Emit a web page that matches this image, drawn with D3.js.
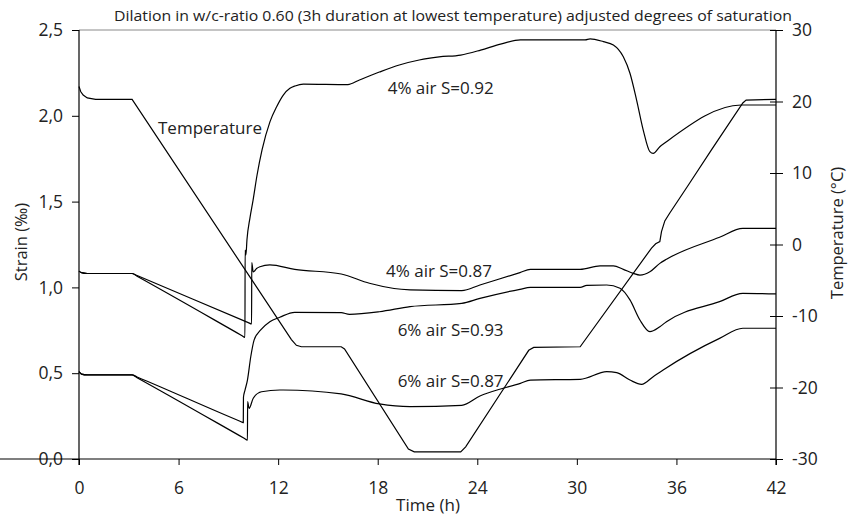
<!DOCTYPE html>
<html>
<head>
<meta charset="utf-8">
<script src="https://cdn.jsdelivr.net/npm/d3@7"></script>
<style>
  html, body { margin: 0; padding: 0; background: #fff; }
  svg { display: block; font-family: "Open Sans", "Noto Sans", sans-serif; }
</style>
</head>
<body>
<svg id="chart" width="850" height="519"></svg>
<script>
// ---- data (time in h, strain in ‰, temperature in °C) ----
const title = "Dilation in w/c-ratio 0.60 (3h duration at lowest temperature) adjusted degrees of saturation";
const timeTicks = [0, 6, 12, 18, 24, 30, 36, 42];
const strainTicks = [0, 0.5, 1.0, 1.5, 2.0, 2.5];
const tempTicks = [-30, -20, -10, 0, 10, 20, 30];

const temperature = [
  [0,22.1],[0.1,21.4],[0.25,20.9],[0.5,20.5],[1.0,20.3],[3.2,20.3],
  [12.8,-13.3],[13.1,-14.1],[13.4,-14.3],[15.8,-14.3],[16.0,-14.6],
  [19.85,-28.6],[20.2,-29.0],[23.0,-29.0],[23.3,-28.3],[27.1,-14.8],
  [27.4,-14.4],[30.2,-14.3],[34.5,-0.5],[34.75,0.1],[35.0,0.4],[35.1,1.8],
  [35.3,3.3],[35.6,4.4],[36.8,8.6],[38.1,13.2],[40.0,19.8],[40.2,20.2],[42,20.3]
];
const air4S092 = [
  [0,1.095],[0.15,1.086],[0.5,1.081],[3.2,1.081],[3.5,1.065],[9.8,0.72],[10.0,0.709],[10.01,1.218],
  [10.06,1.19],[10.12,1.276],[10.30,1.404],[10.49,1.509],[10.73,1.655],[11.03,1.801],
  [11.51,1.966],[11.91,2.053],[12.31,2.121],[12.71,2.160],[13.02,2.174],[13.52,2.185],
  [16.2,2.182],[16.9,2.209],[18.1,2.255],[19.3,2.296],[20.5,2.325],[21.7,2.343],
  [23.0,2.354],[24.2,2.383],[25.4,2.418],[26.6,2.442],[30.5,2.442],[30.8,2.448],
  [31.6,2.432],[32.2,2.413],[32.8,2.344],[33.2,2.248],[33.6,2.092],[34.0,1.917],
  [34.4,1.791],[34.6,1.781],[35.0,1.82],[35.4,1.849],[39.9,2.063],[42,2.063]
];
const air4S087 = [
  [0,1.095],[0.15,1.086],[0.5,1.081],[3.2,1.081],[3.5,1.069],[10.2,0.795],[10.4,0.787],[10.41,1.144],
  [10.5,1.09],[10.7,1.11],[10.9,1.12],[11.5,1.131],[13.0,1.105],[15.8,1.078],
  [17.5,1.024],[19.95,0.985],[23.06,0.981],[24.16,1.014],[26.57,1.086],[27.2,1.105],
  [30.2,1.105],[31.4,1.125],[32.2,1.125],[32.8,1.105],[33.4,1.082],[33.8,1.072],
  [34.4,1.091],[35.0,1.14],[35.4,1.164],[38.6,1.292],[40.0,1.344],[42,1.344]
];
const air6S093 = [
  [0,0.509],[0.15,0.495],[0.5,0.49],[3.2,0.49],[3.5,0.478],[9.7,0.22],[9.9,0.212],[9.91,0.36],[10.0,0.40],
  [10.15,0.46],[10.35,0.596],[10.55,0.693],[10.95,0.752],[11.5,0.80],[12.1,0.826],
  [13.0,0.855],[15.8,0.853],[16.3,0.843],[18.1,0.858],[19.95,0.888],[23.06,0.907],
  [24.16,0.936],[26.57,0.989],[27.2,1.0],[30.2,1.0],[30.6,1.012],[31.8,1.014],
  [32.6,0.995],[33.2,0.927],[33.8,0.81],[34.4,0.742],[35.0,0.771],[35.4,0.80],
  [38.6,0.917],[40.0,0.965],[42,0.962]
];
const air6S087 = [
  [0,0.509],[0.15,0.495],[0.5,0.49],[3.2,0.49],[3.5,0.474],[9.95,0.121],[10.15,0.11],[10.16,0.334],[10.25,0.295],
  [10.5,0.354],[11.0,0.392],[12.1,0.402],[12.3,0.402],[15.8,0.379],[18.1,0.321],
  [19.95,0.305],[23.06,0.313],[24.16,0.367],[26.6,0.441],[27.2,0.46],[30.2,0.464],
  [31.8,0.509],[32.4,0.503],[33.2,0.46],[33.9,0.435],[34.6,0.48],[35.2,0.519],
  [38.6,0.703],[40.0,0.762],[42,0.762]
];
const seriesLabels = [
  { text: "Temperature", t: 4.76, v: 1.895 },
  { text: "4% air S=0.92", t: 18.6, v: 2.125 },
  { text: "4% air S=0.87", t: 18.5, v: 1.061 },
  { text: "6% air S=0.93", t: 19.2, v: 0.717 },
  { text: "6% air S=0.87", t: 19.2, v: 0.42 }
];

// ---- layout ----
const svg = d3.select("#chart");
const L = 79, R = 776, T = 30, B = 459;
const x = d3.scaleLinear().domain([0, 42]).range([L, R]);
const y = d3.scaleLinear().domain([0, 2.5]).range([B, T]);
const yT = d3.scaleLinear().domain([-30, 30]).range([B, T]);
const fmt = d => d3.format(".1f")(d).replace(".", ",");

// top border
svg.append("line").attr("x1", L).attr("x2", R).attr("y1", T).attr("y2", T)
  .attr("stroke", "#8a8a8a").attr("stroke-width", 1);

// left axis
const gL = svg.append("g").attr("transform", `translate(${L},0)`)
  .call(d3.axisLeft(y).tickValues(strainTicks).tickFormat(fmt).tickSize(7).tickPadding(9));
// right axis
const gR = svg.append("g").attr("transform", `translate(${R},0)`)
  .call(d3.axisRight(yT).tickValues(tempTicks).tickFormat(d => String(d)).tickSize(7).tickPadding(9));
gR.selectAll(".tick line").attr("x1", -6);
// bottom axis
const gB = svg.append("g").attr("transform", `translate(0,${B})`)
  .call(d3.axisBottom(x).tickValues(timeTicks).tickSize(6).tickPadding(17));

[gL, gR, gB].forEach(g => {
  g.select(".domain").attr("stroke", "#000").attr("stroke-width", 1.2);
  g.selectAll(".tick line").attr("stroke", "#000");
  g.selectAll(".tick text").attr("font-size", 17.5).attr("fill", "#222")
    .attr("font-family", "'Open Sans', sans-serif");
});
gL.select(".domain").attr("d", `M0,${T}V${B + 6}`);
gR.select(".domain").attr("d", `M0,${T}V${B + 6}`);
gB.select(".domain").attr("d", `M0,0H${R}`);

// lines
const lineS = d3.line().x(d => x(d[0])).y(d => y(d[1])).curve(d3.curveMonotoneX);
const lineT = d3.line().x(d => x(d[0])).y(d => yT(d[1])).curve(d3.curveLinear);
[air4S092, air4S087, air6S093, air6S087].forEach(s => {
  svg.append("path").datum(s).attr("d", lineS)
    .attr("fill", "none").attr("stroke", "#000").attr("stroke-width", 1.2);
});
svg.append("path").datum(temperature).attr("d", lineT)
  .attr("fill", "none").attr("stroke", "#000").attr("stroke-width", 1.2);

// series labels
svg.selectAll(".slabel").data(seriesLabels).enter().append("text")
  .attr("x", d => x(d.t)).attr("y", d => y(d.v))
  .attr("font-size", 17).attr("fill", "#222").text(d => d.text);

// title
svg.append("text").attr("x", 453).attr("y", 21).attr("text-anchor", "middle")
  .attr("font-size", 15).attr("textLength", 678).attr("lengthAdjust", "spacingAndGlyphs")
  .attr("fill", "#222").text(title);

// axis titles
svg.append("text").attr("transform", "translate(27,242) rotate(-90)")
  .attr("text-anchor", "middle").attr("font-size", 16.5).attr("fill", "#222").text("Strain (‰)");
svg.append("text").attr("transform", "translate(843,233) rotate(-90)")
  .attr("text-anchor", "middle").attr("font-size", 16.5).attr("fill", "#222").text("Temperature (°C)");
svg.append("text").attr("x", 428).attr("y", 511)
  .attr("text-anchor", "middle").attr("font-size", 17).attr("fill", "#222").text("Time (h)");
</script>
</body>
</html>
